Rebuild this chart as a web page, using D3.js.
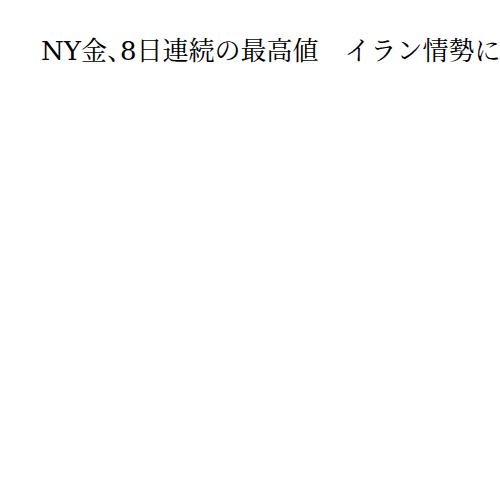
<!DOCTYPE html>
<html lang="ja">
<head>
    <meta charset="UTF-8">
    <title>NY金</title>
    <script src="https://d3js.org/d3.v7.min.js"></script>
    <style>
        body { margin: 0; background: #fff; }
        text { font-family: "DejaVu Serif", "Noto Serif CJK JP", "IPAMincho", serif; }
        .halt { font-feature-settings: "halt"; }
    </style>
</head>
<body>
<div id="chart"></div>
<script>
// title only -- the chart body is empty in the source
var titleText = ["NY金、8日連続の最高値　イラン情勢に"];

var width = 500, height = 500;

var svg = d3.select("#chart")
    .append("svg")
    .attr("width", width)
    .attr("height", height);

var title = svg.selectAll(".title")
    .data(titleText)
    .enter()
    .append("text")
    .attr("class", "title")
    .attr("x", 41)
    .attr("y", 60)
    .attr("font-size", 26)
    .attr("fill", "#000");

// the comma is set half width in the source
title.selectAll("tspan")
    .data(d => d.split(/(、)/))
    .enter()
    .append("tspan")
    .attr("class", d => d === "、" ? "halt" : null)
    .text(d => d);
</script>
</body>
</html>
